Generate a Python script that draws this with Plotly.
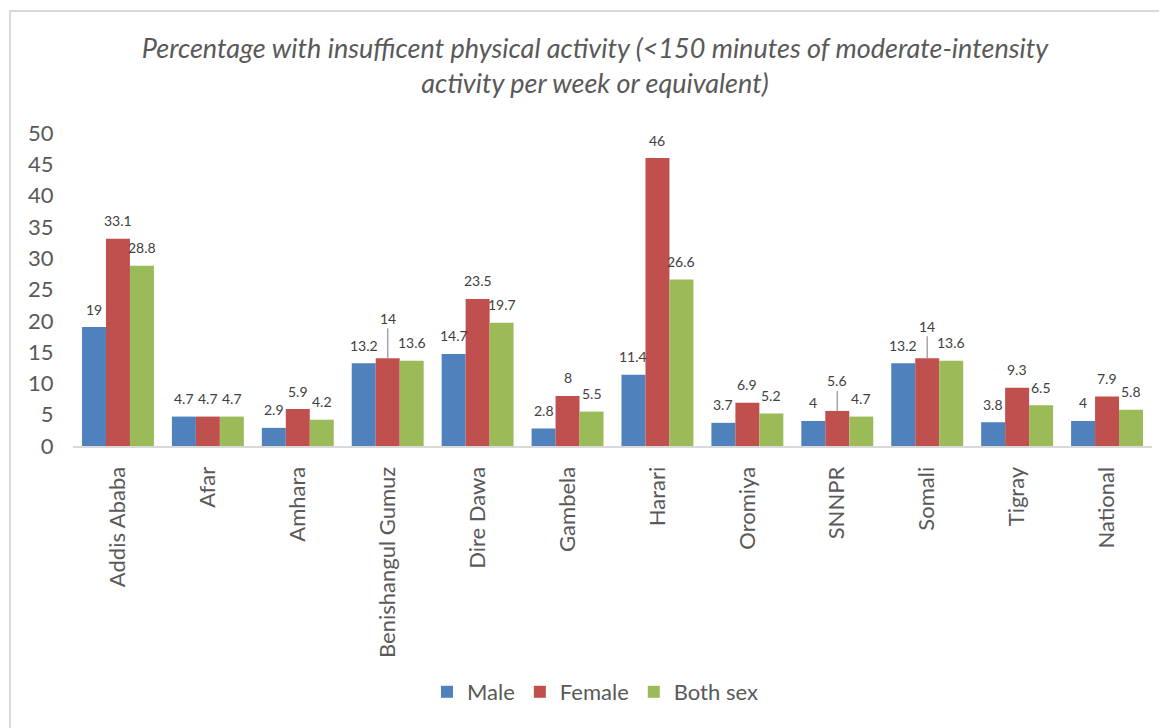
import plotly.graph_objects as go

categories = ["Addis Ababa", "Afar", "Amhara", "Benishangul Gumuz", "Dire Dawa", "Gambela",
              "Harari", "Oromiya", "SNNPR", "Somali", "Tigray", "National"]
male = [19, 4.7, 2.9, 13.2, 14.7, 2.8, 11.4, 3.7, 4, 13.2, 3.8, 4]
female = [33.1, 4.7, 5.9, 14, 23.5, 8, 46, 6.9, 5.6, 14, 9.3, 7.9]
both_sex = [28.8, 4.7, 4.2, 13.6, 19.7, 5.5, 26.6, 5.2, 4.7, 13.6, 6.5, 5.8]
y_ticks = [0, 5, 10, 15, 20, 25, 30, 35, 40, 45, 50]
# labels raised with a leader line (series index, category index) -> pixel rise
leader = {(1, 3): 40, (1, 8): 30, (1, 9): 32}

W, H = 1167, 728
OFF = 8  # page body margin
L, R, T, B = 73 - OFF, 15 + OFF, 133 - OFF, 282 + OFF
pw, ph = W - L - R, H - T - B

FONT = "Lato, 'Open Sans', sans-serif"
GRAY = "#595959"
BARGAP = 0.2

def px_x(p):
    return (p - OFF - L) / pw

def px_y(p):
    return (H - B - (p - OFF)) / ph

series = [("Male", male, "#4F81BD"), ("Female", female, "#C0504D"), ("Both sex", both_sex, "#9BBB59")]
fig = go.Figure()
annotations = []
bw = (1 - BARGAP) / len(series)
for si, (name, vals, col) in enumerate(series):
    fig.add_trace(go.Bar(
        name=name, x=categories, y=vals, marker_color=col, marker_line_width=0,
        hoverinfo="x+y+name",
    ))
    for ci, v in enumerate(vals):
        xpos = ci + (si - 1) * bw
        rise = leader.get((si, ci))
        if rise:
            annotations.append(dict(
                x=xpos, y=v, xref="x", yref="y", text=f"{v:g}",
                showarrow=True, arrowhead=0, arrowwidth=1.5, arrowcolor="#A6A6A6",
                ax=0, ay=-rise, standoff=0, startstandoff=0,
                font=dict(size=14, color="#404040", family=FONT),
                yanchor="middle",
            ))
        else:
            annotations.append(dict(
                x=xpos, y=v, xref="x", yref="y", text=f"{v:g}", showarrow=False,
                yanchor="middle", yshift=18,
                font=dict(size=14, color="#404040", family=FONT),
            ))

fig.update_layout(
    width=W, height=H,
    margin=dict(l=L, r=R, t=T, b=B),
    paper_bgcolor="white", plot_bgcolor="white",
    barmode="group", bargap=BARGAP, bargroupgap=0,
    font=dict(family=FONT, color=GRAY),
    title=dict(
        text="<i>Percentage with insufficent physical activity (<150 minutes of moderate-intensity<br>activity per week or equivalent)</i>",
        x=(595 - OFF) / W, xanchor="center", y=1 - (58 - OFF) / H, yanchor="middle", yref="container",
        font=dict(size=27, color=GRAY, family=FONT),
    ),
    xaxis=dict(
        tickangle=-90, tickfont=dict(size=22, color=GRAY), showgrid=False,
        showline=True, linecolor="#D9D9D9", linewidth=2,
        ticks="outside", ticklen=10, tickcolor="rgba(0,0,0,0)",
    ),
    yaxis=dict(
        range=[0, 50], tickvals=y_ticks, tickfont=dict(size=22, color=GRAY),
        showgrid=False, zeroline=False, showline=False,
        ticks="outside", ticklen=14, tickcolor="rgba(0,0,0,0)",
    ),
    legend=dict(
        orientation="h", x=px_x(595), xanchor="center", y=px_y(692), yanchor="middle",
        font=dict(size=22, color=GRAY), traceorder="normal",
    ),
    annotations=annotations,
    shapes=[dict(
        type="rect", xref="paper", yref="paper",
        x0=px_x(10), x1=px_x(1185), y0=px_y(11), y1=px_y(750),
        line=dict(color="#D9D9D9", width=2), fillcolor="rgba(0,0,0,0)", layer="below",
    )],
)

fig.write_html("out.html")
